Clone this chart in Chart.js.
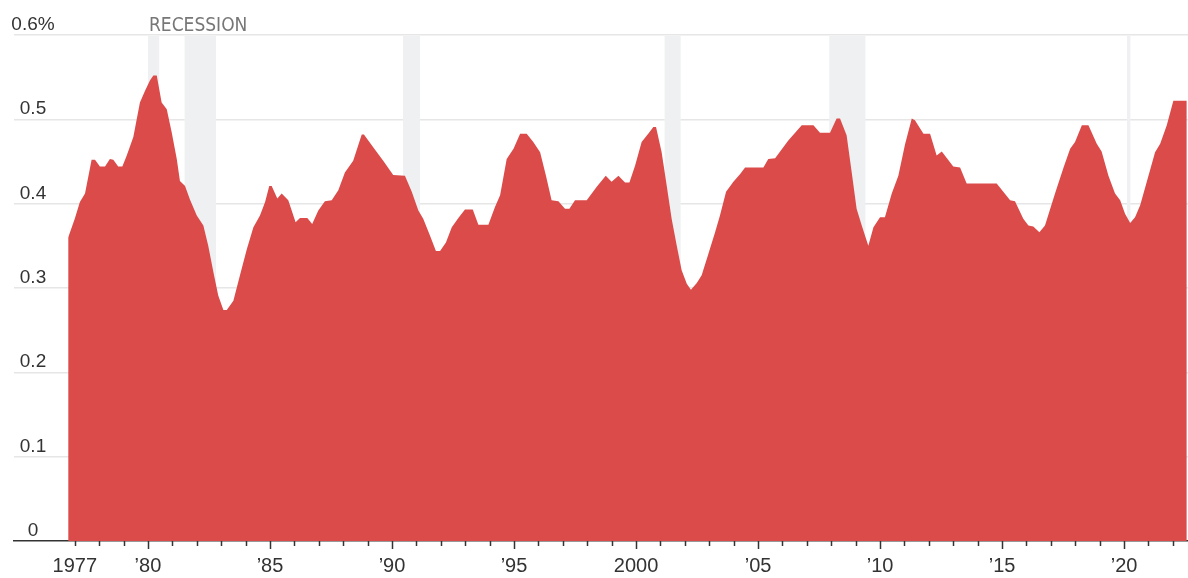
<!DOCTYPE html>
<html>
<head>
<meta charset="utf-8">
<script src="https://cdn.jsdelivr.net/npm/chart.js@4/dist/chart.umd.min.js"></script>
<style>
  html, body { margin: 0; padding: 0; background: #fff; }
  #wrap { width: 1188px; height: 578px; position: relative; }
</style>
</head>
<body>
<div id="wrap"><canvas id="chart"></canvas></div>
<script>
// Dates as decimal years
const years = [
  1976.73, 1977.00, 1977.21, 1977.42, 1977.69, 1977.83, 1978.03, 1978.24, 1978.44, 1978.58,
  1978.78, 1978.95, 1979.13, 1979.40, 1979.67, 1979.88, 1980.08, 1980.22, 1980.36, 1980.56,
  1980.77, 1980.97, 1981.18, 1981.31, 1981.52, 1981.72, 1982.00, 1982.27, 1982.47, 1982.68,
  1982.88, 1983.09, 1983.23, 1983.50, 1983.77, 1984.05, 1984.32, 1984.59, 1984.80, 1984.97,
  1985.07, 1985.30, 1985.48, 1985.75, 1986.05, 1986.23, 1986.53, 1986.73, 1986.98, 1987.25,
  1987.53, 1987.80, 1988.07, 1988.41, 1988.76, 1988.85, 1989.23, 1989.64, 1990.05, 1990.53,
  1990.81, 1991.08, 1991.28, 1991.56, 1991.80, 1991.97, 1992.21, 1992.45, 1992.72, 1992.99,
  1993.31, 1993.54, 1993.95, 1994.22, 1994.43, 1994.70, 1994.98, 1995.25, 1995.52, 1995.79,
  1996.07, 1996.31, 1996.54, 1996.82, 1997.09, 1997.27, 1997.50, 1997.98, 1998.39, 1998.76,
  1999.00, 1999.28, 1999.55, 1999.73, 1999.96, 2000.23, 2000.50, 2000.71, 2000.82, 2001.05,
  2001.26, 2001.46, 2001.67, 2001.87, 2002.08, 2002.25, 2002.49, 2002.69, 2002.96, 2003.24,
  2003.44, 2003.69, 2003.99, 2004.26, 2004.47, 2005.22, 2005.42, 2005.70, 2006.24, 2006.79,
  2007.27, 2007.54, 2007.95, 2008.22, 2008.36, 2008.63, 2008.84, 2009.04, 2009.25, 2009.52,
  2009.73, 2010.00, 2010.20, 2010.48, 2010.75, 2011.02, 2011.30, 2011.43, 2011.78, 2012.05,
  2012.32, 2012.53, 2013.00, 2013.28, 2013.55, 2014.78, 2015.33, 2015.53, 2015.87, 2016.08,
  2016.28, 2016.53, 2016.76, 2017.17, 2017.51, 2017.79, 2017.99, 2018.27, 2018.54, 2018.88,
  2019.08, 2019.36, 2019.63, 2019.84, 2020.04, 2020.25, 2020.45, 2020.66, 2021.00, 2021.27,
  2021.48, 2021.75, 2022.02, 2022.57
];

// Rate, percent
const rates = [
  0.360, 0.382, 0.402, 0.412, 0.452, 0.452, 0.444, 0.444, 0.453, 0.452,
  0.444, 0.444, 0.457, 0.479, 0.520, 0.534, 0.546, 0.552, 0.552, 0.520,
  0.512, 0.485, 0.453, 0.427, 0.421, 0.405, 0.386, 0.374, 0.350, 0.319,
  0.291, 0.274, 0.274, 0.285, 0.315, 0.346, 0.372, 0.386, 0.402, 0.421,
  0.421, 0.406, 0.412, 0.404, 0.378, 0.383, 0.383, 0.376, 0.392, 0.403,
  0.404, 0.416, 0.437, 0.451, 0.482, 0.482, 0.467, 0.451, 0.434, 0.433,
  0.414, 0.392, 0.382, 0.362, 0.344, 0.344, 0.354, 0.372, 0.383, 0.393,
  0.393, 0.375, 0.375, 0.396, 0.410, 0.453, 0.465, 0.483, 0.483, 0.473,
  0.461, 0.433, 0.404, 0.403, 0.394, 0.394, 0.404, 0.404, 0.420, 0.433,
  0.426, 0.433, 0.425, 0.425, 0.445, 0.473, 0.483, 0.491, 0.491, 0.461,
  0.421, 0.382, 0.350, 0.321, 0.305, 0.298, 0.306, 0.315, 0.340, 0.366,
  0.386, 0.414, 0.426, 0.435, 0.443, 0.443, 0.453, 0.454, 0.475, 0.493,
  0.493, 0.484, 0.484, 0.501, 0.501, 0.481, 0.437, 0.394, 0.374, 0.350,
  0.372, 0.384, 0.384, 0.412, 0.433, 0.470, 0.501, 0.499, 0.483, 0.483,
  0.457, 0.462, 0.444, 0.443, 0.424, 0.424, 0.404, 0.403, 0.382, 0.374,
  0.373, 0.366, 0.374, 0.412, 0.442, 0.465, 0.473, 0.493, 0.493, 0.471,
  0.462, 0.433, 0.412, 0.404, 0.388, 0.377, 0.384, 0.398, 0.433, 0.461,
  0.471, 0.493, 0.522, 0.522
];

// Recession periods [start, end]
const recessionStarts = [1980.00, 1981.50, 1990.45, 2001.17, 2007.92, 2020.12];
const recessionEnds   = [1980.46, 1982.79, 1991.15, 2001.83, 2009.40, 2020.26];

// Axis ticks and labels
const yTickValues = [0, 0.1, 0.2, 0.3, 0.4, 0.5, 0.6];
const yTickLabels = ['0', '0.1', '0.2', '0.3', '0.4', '0.5', '0.6%'];
const xTickYears = [];
for (let y = 1977; y <= 2022; y++) xTickYears.push(y);
const xLabelYears = [1977, 1980, 1985, 1990, 1995, 2000, 2005, 2010, 2015, 2020];
const xLabelTexts = ['1977', '\u201980', '\u201985', '\u201990', '\u201995', '2000', '\u201905', '\u201910', '\u201915', '\u201920'];

const RED = '#db4b4a';
const INK = '#333333';
const FONT = '"Liberation Sans", Arial, sans-serif';
const NARROW = '"Liberation Sans Narrow", "DejaVu Sans Condensed", sans-serif';

const points = years.map((x, i) => ({ x: x, y: rates[i] }));

// Shaded recession bands behind the area
const recessionBands = {
  id: 'recessionBands',
  beforeDatasetsDraw(chart) {
    const { ctx, chartArea, scales } = chart;
    ctx.save();
    ctx.fillStyle = '#eef0f2';
    recessionStarts.forEach((s, i) => {
      const x0 = scales.x.getPixelForValue(s);
      const x1 = scales.x.getPixelForValue(recessionEnds[i]);
      ctx.fillRect(x0, chartArea.top + 1, x1 - x0, chartArea.bottom - chartArea.top - 1);
    });
    ctx.restore();
  }
};

// Tick marks, value labels above gridlines and the band caption
const annotations = {
  id: 'annotations',
  afterDraw(chart) {
    const { ctx, chartArea, scales } = chart;
    ctx.save();
    // year ticks under the baseline
    ctx.strokeStyle = INK;
    ctx.lineWidth = 1.5;
    xTickYears.forEach(y => {
      const x = Math.round(scales.x.getPixelForValue(y)) + 0.5;
      const len = (y % 5 === 0) ? 8 : 5;
      ctx.beginPath();
      ctx.moveTo(x, chartArea.bottom);
      ctx.lineTo(x, chartArea.bottom + len);
      ctx.stroke();
    });
    // value labels sitting on the gridlines
    ctx.fillStyle = INK;
    ctx.font = '19px ' + FONT;
    ctx.textAlign = 'center';
    ctx.textBaseline = 'alphabetic';
    yTickValues.forEach((v, i) => {
      const y = scales.y.getPixelForValue(v);
      ctx.fillText(yTickLabels[i], 33, y - 5);
    });
    // caption for the shaded bands
    ctx.fillStyle = '#777777';
    ctx.font = '19px ' + NARROW;
    ctx.textAlign = 'left';
    ctx.fillText('RECESSION', scales.x.getPixelForValue(recessionStarts[0]) + 1, 31);
    ctx.restore();
  }
};

new Chart(document.getElementById('chart'), {
  type: 'line',
  data: {
    datasets: [{
      data: points,
      parsing: false,
      fill: 'origin',
      backgroundColor: RED,
      borderColor: RED,
      borderWidth: 0,
      pointRadius: 0,
      tension: 0
    }]
  },
  options: {
    responsive: true,
    maintainAspectRatio: false,
    animation: false,
    devicePixelRatio: 1,
    layout: { padding: { left: 14, top: 35, right: 0, bottom: 0 } },
    plugins: {
      legend: { display: false },
      tooltip: { enabled: false }
    },
    scales: {
      x: {
        type: 'linear',
        min: 1974.51,
        max: 2022.62,
        z: 2,
        afterBuildTicks: s => { s.ticks = xTickYears.map(v => ({ value: v })); },
        afterFit: s => { s.height = 37; },
        grid: { display: false, drawTicks: false },
        border: { display: true, color: INK, width: 1.5 },
        ticks: {
          autoSkip: false,
          maxRotation: 0,
          padding: 13,
          color: INK,
          font: { family: FONT, size: 20 },
          callback: v => {
            const k = xLabelYears.indexOf(v);
            return k >= 0 ? xLabelTexts[k] : '';
          }
        }
      },
      y: {
        min: 0,
        max: 0.6,
        z: 1,
        afterBuildTicks: s => { s.ticks = yTickValues.map(v => ({ value: v })); },
        afterFit: s => { s.width = 0; },
        grid: {
          drawTicks: false,
          lineWidth: 1.5,
          color: c => (c.tick && c.tick.value === 0) ? 'rgba(0,0,0,0)' : '#e6e6e6'
        },
        border: { display: false },
        ticks: { display: false }
      }
    }
  },
  plugins: [recessionBands, annotations]
});
</script>
</body>
</html>
